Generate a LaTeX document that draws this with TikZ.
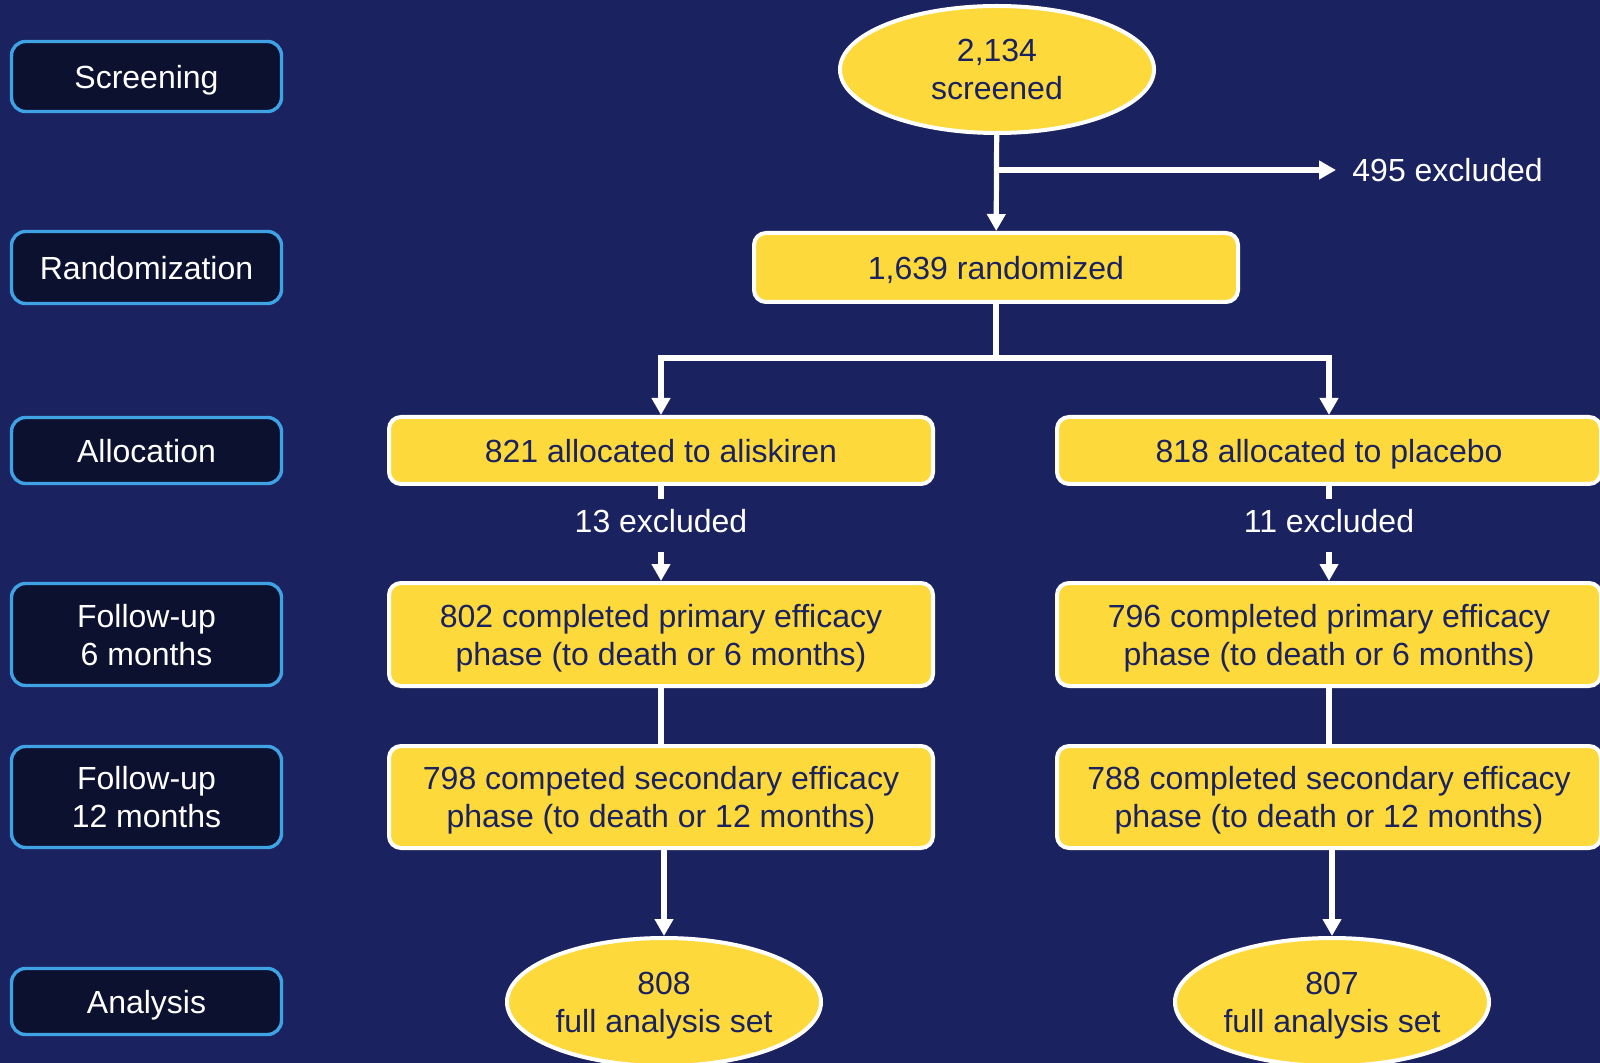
\documentclass[tikz,border=0pt]{standalone}
\usepackage{fontspec}
\setmainfont{Liberation Sans}
\usepackage{tikz}
\usetikzlibrary{shapes.geometric}
\usetikzlibrary{arrows.meta}
\definecolor{navy}{RGB}{27,34,96}
\definecolor{darknavy}{RGB}{13,17,48}
\definecolor{gold}{RGB}{253,217,59}
\definecolor{skyline}{RGB}{63,162,228}

\begin{document}
\begin{tikzpicture}[x=0.5pt,y=-0.5pt,
		every node/.style={font=\fontsize{16}{19}\selectfont, align=center, inner sep=0pt, text depth=0pt},
		phase/.style={draw=skyline, line width=1.7pt, fill=darknavy, text=white, rounded corners=7pt, minimum width=135pt},
		stepbox/.style={draw=white, line width=2pt, fill=gold, text=navy, rounded corners=6pt, minimum width=272pt},
		oval/.style={ellipse, draw=white, line width=2pt, fill=gold, text=navy, minimum width=157pt, minimum height=63.5pt},
		excl/.style={text=white, inner xsep=8pt, inner ysep=5pt},
		conn/.style={draw=white, line width=2.6pt},
		arrow/.style={conn, -{Triangle[width=9pt,length=8.5pt]}}]
				\useasboundingbox (0,0) rectangle (1600,1063);
				\clip (0,0) rectangle (1600,1063);
				\fill[navy] (0,0) rectangle (1600,1063);

				\node[phase, minimum height=35pt] (lscr) at (146.5,76.5) {Screening};
				\node[phase, minimum height=36pt] (lrnd) at (146.5,267.5) {Randomization};
				\node[phase, minimum height=33pt] (lalloc) at (146.5,450.5) {Allocation};
				\node[phase, minimum height=51pt] (lfu6) at (146.5,634.5) {Follow-up\\6 months};
				\node[phase, minimum height=50.5pt] (lfu12) at (146.5,797) {Follow-up\\12 months};
				\node[phase, minimum height=33pt] (lana) at (146.5,1001.5) {Analysis};

				\node[oval] (screened) at (997,69.5) {2,134\\screened};
				\node[excl, anchor=west] (ex495) at (1336,170) {495 excluded};
				\node[stepbox, minimum width=242pt, minimum height=34.5pt] (rz) at (996,267.5) {1,639 randomized};
				\coordinate (split) at (996,358);

				\node[stepbox, minimum height=33.5pt] (ali) at (661,450.5) {821 allocated to aliskiren};
				\node[stepbox, minimum height=33.5pt] (pla) at (1329,450.5) {818 allocated to placebo};
				\node[excl] (ex13) at (661,521) {13 excluded};
				\node[excl] (ex11) at (1329,521) {11 excluded};
				\node[stepbox, minimum height=51.5pt] (ali6) at (661,634.5) {802 completed primary efficacy\\phase (to death or 6 months)};
				\node[stepbox, minimum height=51.5pt] (pla6) at (1329,634.5) {796 completed primary efficacy\\phase (to death or 6 months)};
				\node[stepbox, minimum height=51pt] (ali12) at (661,797) {798 competed secondary efficacy\\phase (to death or 12 months)};
				\node[stepbox, minimum height=51pt] (pla12) at (1329,797) {788 completed secondary efficacy\\phase (to death or 12 months)};
				\node[oval, minimum height=64pt] (alifa) at (664,1002) {808\\full analysis set};
				\node[oval, minimum height=64pt] (plafa) at (1332,1002) {807\\full analysis set};

				\draw[arrow] (screened) -- (rz);
				\draw[arrow] (screened.south |- ex495.west) -- (ex495.west);
				\draw[conn] (rz) -- (split);
				\draw[arrow] (split) -| (ali);
				\draw[arrow] (split) -| (pla);
				\draw[conn] (ali) -- (ex13);
				\draw[conn] (pla) -- (ex11);
				\draw[arrow, shorten <=4.5pt] (ex13) -- (ali6);
				\draw[arrow, shorten <=4.5pt] (ex11) -- (pla6);
				\draw[conn] (ali6) -- (ali12);
				\draw[conn] (pla6) -- (pla12);
				\draw[arrow] (ali12.south -| alifa) -- (alifa);
				\draw[arrow] (pla12.south -| plafa) -- (plafa);
			\end{tikzpicture}
\end{document}
